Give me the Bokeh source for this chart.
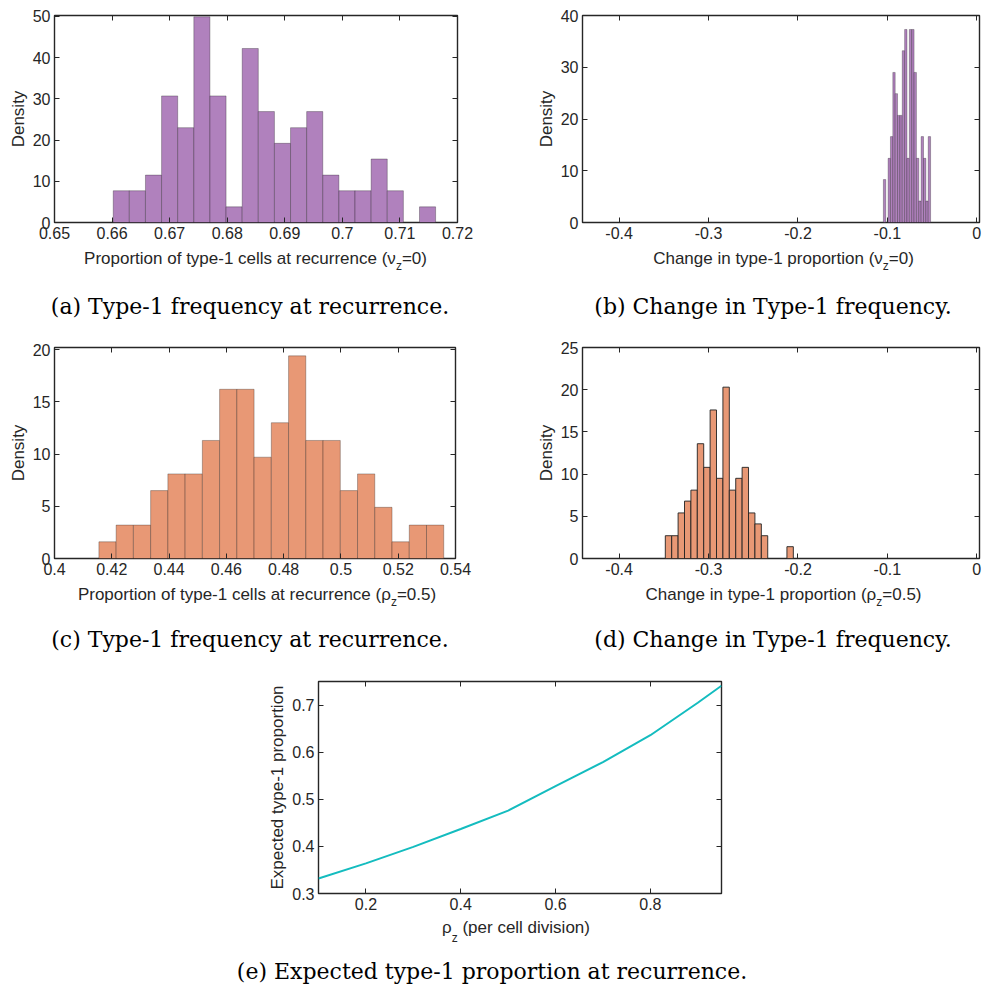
import numpy as np
from bokeh.plotting import figure
from bokeh.models import LinearAxis, FixedTicker, Range1d, Div
from bokeh.layouts import column, row
from bokeh.embed import file_html
from bokeh.resources import INLINE

# ---------------- data ----------------
# (a) proportion of type-1 cells at recurrence (nu_z = 0)
a_edge0 = 0.6602
a_binw = 0.0028
a_density = [7.7, 7.7, 11.5, 30.7, 23.0, 49.9, 30.7, 3.8, 42.2, 26.9,
             19.2, 23.0, 26.9, 11.5, 7.7, 7.7, 15.4, 7.7, 0.0, 3.8]
a_xticks = [0.65, 0.66, 0.67, 0.68, 0.69, 0.70, 0.71, 0.72]
a_xlabels = ["0.65", "0.66", "0.67", "0.68", "0.69", "0.7", "0.71", "0.72"]
a_yticks = [0, 10, 20, 30, 40, 50]

# (b) change in type-1 proportion (nu_z = 0)
b_edge0 = -0.1045
b_binw = 0.00264
b_density = [8.3, 0.0, 12.4, 16.6, 29.0, 24.9, 20.7, 20.7, 33.2, 37.3,
             12.4, 37.3, 37.3, 29.0, 12.4, 4.15, 16.6, 12.4, 4.15, 16.6]
b_xticks = [-0.4, -0.3, -0.2, -0.1, 0.0]
b_xlabels = ["-0.4", "-0.3", "-0.2", "-0.1", "0"]
b_yticks = [0, 10, 20, 30, 40]

# (c) proportion of type-1 cells at recurrence (rho_z = 0.5)
c_edge0 = 0.4155
c_binw = 0.00602
c_density = [1.6, 3.2, 3.2, 6.5, 8.1, 8.1, 11.3, 16.2, 16.2, 9.7,
             13.0, 19.4, 11.3, 11.3, 6.5, 8.1, 4.9, 1.6, 3.2, 3.2]
c_xticks = [0.40, 0.42, 0.44, 0.46, 0.48, 0.50, 0.52, 0.54]
c_xlabels = ["0.4", "0.42", "0.44", "0.46", "0.48", "0.5", "0.52", "0.54"]
c_yticks = [0, 5, 10, 15, 20]

# (d) change in type-1 proportion (rho_z = 0.5)
d_edge0 = -0.3484
d_binw = 0.00716
d_density = [2.7, 2.7, 5.4, 6.8, 8.1, 13.6, 10.8, 17.6, 9.5, 20.3,
             8.1, 9.5, 10.8, 5.4, 4.1, 2.7, 0.0, 0.0, 0.0, 1.4]
d_xticks = [-0.4, -0.3, -0.2, -0.1, 0.0]
d_xlabels = ["-0.4", "-0.3", "-0.2", "-0.1", "0"]
d_yticks = [0, 5, 10, 15, 20, 25]

# (e) expected type-1 proportion vs rho_z
e_rho = [0.1, 0.2, 0.3, 0.4, 0.5, 0.6, 0.7, 0.8, 0.9, 0.95]
e_prop = [0.332, 0.364, 0.399, 0.437, 0.476, 0.528, 0.579, 0.636, 0.705, 0.741]
e_xticks = [0.2, 0.4, 0.6, 0.8]
e_xlabels = ["0.2", "0.4", "0.6", "0.8"]
e_yticks = [0.3, 0.4, 0.5, 0.6, 0.7]
e_ylabels = ["0.3", "0.4", "0.5", "0.6", "0.7"]

# ---------------- styling ----------------
AX = "#262626"
SANS = "Liberation Sans"
SERIF = "DejaVu Serif"
PURPLE = "#b081bd"
ORANGE = "#e89875"
TEAL = "#14bcbf"
W = 982


def style_axis(ax, ticks, labels, show):
    ax.ticker = FixedTicker(ticks=ticks)
    ax.axis_line_color = None
    ax.major_tick_in = 5
    ax.major_tick_out = 0
    ax.major_tick_line_color = AX
    ax.major_tick_line_width = 1
    ax.minor_tick_line_color = None
    if show:
        ax.major_label_overrides = {t: l for t, l in zip(ticks, labels)}
        ax.major_label_text_font = SANS
        ax.major_label_text_font_size = "16px"
        ax.major_label_text_color = AX
        ax.major_label_standoff = 4
    else:
        ax.major_label_overrides = {t: "" for t in ticks}
        ax.major_label_text_font_size = "0px"
        ax.major_label_standoff = 0


def make_fig(w, h, bl, br, bt, bb, xr, yr, xt, xl, yt, yl, ylabel):
    p = figure(width=w, height=h, x_range=Range1d(*xr), y_range=Range1d(*yr),
               output_backend="svg", toolbar_location=None,
               min_border_left=bl, min_border_right=br,
               min_border_top=bt, min_border_bottom=bb)
    p.grid.visible = False
    p.outline_line_color = AX
    p.outline_line_width = 1.4
    style_axis(p.xaxis[0], xt, xl, True)
    style_axis(p.yaxis[0], yt, yl, True)
    p.yaxis[0].axis_label = ylabel
    p.yaxis[0].axis_label_text_font = SANS
    p.yaxis[0].axis_label_text_font_size = "17px"
    p.yaxis[0].axis_label_text_font_style = "normal"
    p.yaxis[0].axis_label_text_color = AX
    p.yaxis[0].axis_label_standoff = 2
    top = LinearAxis()
    right = LinearAxis()
    style_axis(top, xt, xl, False)
    style_axis(right, yt, yl, False)
    p.add_layout(top, "above")
    p.add_layout(right, "right")
    return p


def hist(p, edge0, w, dens, color, lc, la, lw):
    dens = np.asarray(dens, dtype=float)
    left = edge0 + w * np.arange(len(dens))
    keep = dens > 0
    p.quad(left=left[keep], right=left[keep] + w, bottom=0, top=dens[keep],
           fill_color=color, line_color=lc, line_alpha=la, line_width=lw)


def span(x, y, inner, size, font, color):
    return ('<span style="position:absolute;left:%.1fpx;top:%.1fpx;'
            'transform:translate(-50%%,-50%%);white-space:nowrap;'
            "font-family:'%s';font-size:%dpx;color:%s;line-height:1;\">%s</span>"
            % (x, y, font, size, color, inner))


def sub(t, d=6):
    return ('<span style="position:relative;top:%dpx;font-size:12px;">%s</span>' % (d, t))


def xlabel(x, y, inner):
    return span(x, y, inner, 17, SANS, AX)


def caption(x, y, text):
    return span(x, y, text, 22, SERIF, "black")


def strip(h, items):
    html = ('<div style="position:relative;width:%dpx;height:%dpx;overflow:hidden;">' % (W, h)
            + "".join(items) + "</div>")
    return Div(text=html, width=W, height=h, margin=0)


# ---- row 1 ----
pa = make_fig(490, 246, 54, 33, 15, 24, (0.65, 0.72), (0, 50.2),
              a_xticks, a_xlabels, a_yticks, [str(v) for v in a_yticks], "Density")
hist(pa, a_edge0, a_binw, a_density, PURPLE, "black", 0.35, 0.8)

pb = make_fig(492, 246, 92, 3, 11, 24, (-0.441, 0.003), (0, 40),
              b_xticks, b_xlabels, b_yticks, [str(v) for v in b_yticks], "Density")
hist(pb, b_edge0, b_binw, b_density, PURPLE, "black", 0.45, 0.6)

s1 = strip(87, [
    xlabel(255.5, 12, "Proportion of type-1 cells at recurrence (\u03bd" + sub("z") + "=0)"),
    xlabel(783.5, 12, "Change in type-1 proportion (\u03bd" + sub("z") + "=0)"),
    caption(250, 61, "(a) Type-1 frequency at recurrence."),
    caption(773, 61, "(b) Change in Type-1 frequency."),
])

# ---- row 2 ----
pc = make_fig(490, 249, 54, 35, 13, 24, (0.40, 0.54), (0, 20.2),
              c_xticks, c_xlabels, c_yticks, [str(v) for v in c_yticks], "Density")
hist(pc, c_edge0, c_binw, c_density, ORANGE, "black", 0.35, 0.8)

pd_ = make_fig(492, 249, 92, 3, 14, 24, (-0.441, 0.003), (0, 25),
               d_xticks, d_xlabels, d_yticks, [str(v) for v in d_yticks], "Density")
hist(pd_, d_edge0, d_binw, d_density, ORANGE, "#222222", 0.9, 1.0)

s2 = strip(83, [
    xlabel(257, 12, "Proportion of type-1 cells at recurrence (\u03c1" + sub("z") + "=0.5)"),
    xlabel(783.5, 12, "Change in type-1 proportion (\u03c1" + sub("z") + "=0.5)"),
    caption(250, 58, "(c) Type-1 frequency at recurrence."),
    caption(773, 58, "(d) Change in Type-1 frequency."),
])

# ---- row 3 ----
pe = make_fig(W, 252, 318, 261, 16, 24, (0.1, 0.95), (0.3, 0.75),
              e_xticks, e_xlabels, e_yticks, e_ylabels, "Expected type-1 proportion")
pe.line(e_rho, e_prop, line_color=TEAL, line_width=2)

s3 = strip(73, [
    xlabel(516, 10, "\u03c1" + sub("z", 9) + " (per cell division)"),
    caption(492, 55, "(e) Expected type-1 proportion at recurrence."),
])

layout = column(row(pa, pb), s1, row(pc, pd_), s2, pe, s3)
open("out.html", "w").write(file_html(layout, INLINE))
